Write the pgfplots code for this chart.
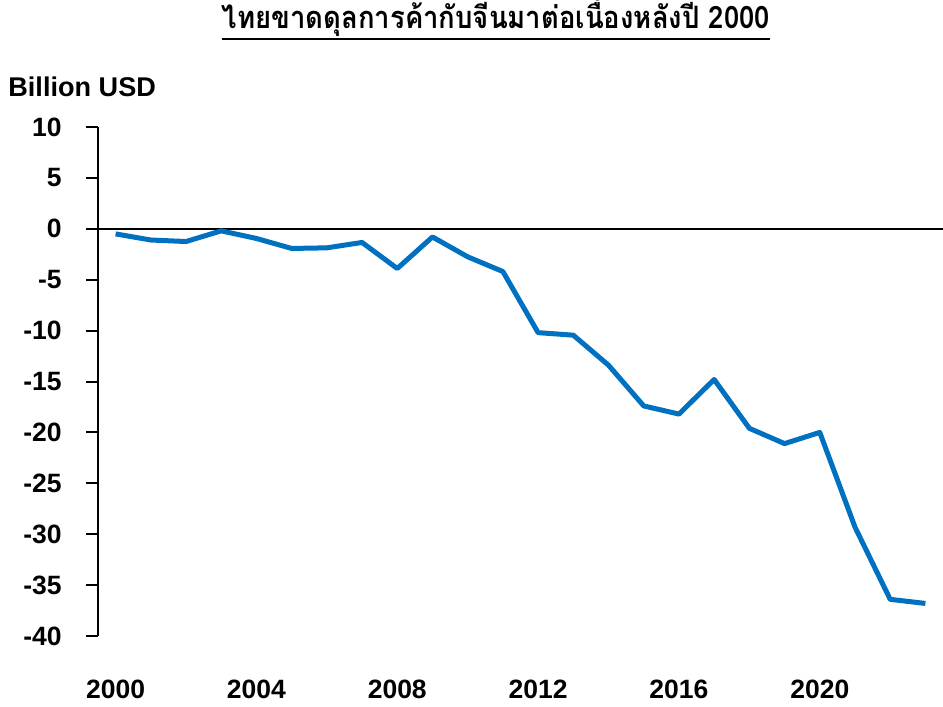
\documentclass[border=0pt]{standalone}
\usepackage{fontspec}
\setmainfont{Liberation Sans}
\newfontfamily\thaifont[Script=Thai,FakeStretch=0.89]{Loma}
\usepackage{pgfplots}
\pgfplotsset{compat=1.18}
\definecolor{lineblue}{RGB}{0,112,192}
\begin{document}
\begin{tikzpicture}
\useasboundingbox (-49bp,-35.5bp) rectangle (422.5bp,318bp);
\begin{axis}[
  at={(0,0)}, anchor=south west,
  width=422.5bp, height=254.5bp, scale only axis,
  xmin=1999.5, xmax=2023.5, ymin=-40, ymax=10,
  axis y line*=left, axis x line*=bottom,
  x axis line style={draw=none},
  y axis line style={line width=1bp},
  xtick={2000,2004,2008,2012,2016,2020},
  ytick={-40,-35,-30,-25,-20,-15,-10,-5,0,5,10},
  x tick style={draw=none},
  y tick style={black, line width=1bp},
  tick align=outside, major tick length=6bp,
  /pgf/number format/assume math mode=true,
  /pgf/number format/1000 sep={},
  tick label style={font=\bfseries\fontsize{13.3}{15}\selectfont},
  x tick label style={anchor=north, inner sep=0pt, yshift=-16bp},
  y tick label style={anchor=east, inner sep=0pt, xshift=-12bp},
  clip=false,
]
\draw[black, line width=1bp] (axis cs:1999.5,0) -- (axis cs:2023.5,0);
\addplot[lineblue, line width=2.5bp, line join=round] coordinates {
(2000,-0.5) (2001,-1.1) (2002,-1.25) (2003,-0.2) (2004,-0.95)
(2005,-1.93) (2006,-1.87) (2007,-1.34) (2008,-3.9) (2009,-0.8)
(2010,-2.75) (2011,-4.2) (2012,-10.2) (2013,-10.45) (2014,-13.4)
(2015,-17.4) (2016,-18.2) (2017,-14.8) (2018,-19.6) (2019,-21.1)
(2020,-20.0) (2021,-29.3) (2022,-36.4) (2023,-36.8)
};
\end{axis}
\node[anchor=base, font=\thaifont\bfseries\fontsize{15.5}{18}\selectfont, inner sep=0pt] (t) at (199bp,303.5bp) {ไทยขาดดุลการค้ากับจีนมาต่อเนื่องหลังปี 2000};
\draw[line width=1bp] ([yshift=-5bp]t.base west) -- ([yshift=-5bp]t.base east);
\node[anchor=base west, font=\bfseries\fontsize{13.6}{15}\selectfont, inner sep=0pt] at (-45bp,269.5bp) {Billion USD};
\end{tikzpicture}
\end{document}
